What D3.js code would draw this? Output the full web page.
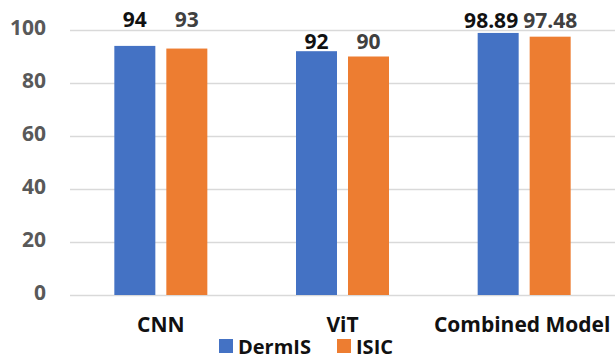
<!DOCTYPE html>
<html>
<head>
<meta charset="utf-8">
<script src="https://cdn.jsdelivr.net/npm/d3@7"></script>
<style>
  html, body { margin: 0; padding: 0; background: #ffffff; }
  svg { display: block; font-family: "Open Sans", "DejaVu Sans", sans-serif; font-weight: 700; }
</style>
</head>
<body>
<svg id="chart" width="615" height="360"></svg>
<script>
// ---- data ----
const categories = ["CNN", "ViT", "Combined Model"];
const seriesNames = ["DermIS", "ISIC"];
const dermisValues = [94, 92, 98.89];
const isicValues = [93, 90, 97.48];
const dermisLabels = ["94", "92", "98.89"];
const isicLabels = ["93", "90", "97.48"];
const yTicks = [0, 20, 40, 60, 80, 100];

// ---- style / layout ----
const colors = { DermIS: "#4472C4", ISIC: "#ED7D31" };
const labelColors = { DermIS: "#111111", ISIC: "#404040" };
const labelBaseline = { "CNN": 27, "ViT": 48.5, "Combined Model": 27.5 };

const W = 615, H = 360;
const plot = { left: 70, right: 615, top: 30, bottom: 295 };

const svg = d3.select("#chart");

const y = d3.scaleLinear().domain([0, 100]).range([plot.bottom, plot.top]);
const x0 = d3.scaleBand().domain(categories).range([plot.left, plot.right]).padding(0);
const groupW = 93;
const x1 = d3.scaleBand().domain(seriesNames).range([0, groupW]).paddingInner(0.2115).paddingOuter(0);
const groupOffset = (x0.bandwidth() - groupW) / 2;

const rows = categories.map((c, i) => ({
  cat: c,
  items: [
    { s: "DermIS", v: dermisValues[i], label: dermisLabels[i] },
    { s: "ISIC", v: isicValues[i], label: isicLabels[i] }
  ]
}));

// gridlines
svg.append("g")
  .selectAll("line")
  .data(yTicks)
  .join("line")
  .attr("x1", plot.left).attr("x2", plot.right)
  .attr("y1", d => y(d) + 0.5).attr("y2", d => y(d) + 0.5)
  .attr("stroke", "#d9d9d9").attr("stroke-width", 1.3);

// y axis labels via d3 axis
const yAxis = svg.append("g")
  .attr("transform", `translate(${46},0)`)
  .call(d3.axisLeft(y).tickValues(yTicks).tickSize(0).tickPadding(0).tickFormat(d3.format("d")));
yAxis.select(".domain").remove();
yAxis.selectAll("text")
  .attr("fill", "#595959")
  .attr("font-size", 21)
  .attr("font-family", "'Open Sans', sans-serif")
  .attr("font-weight", 700)
  .attr("dy", "0.3em")
  .attr("y", -1.5);

// bars
const groups = svg.append("g").selectAll("g")
  .data(rows)
  .join("g")
  .attr("transform", d => `translate(${x0(d.cat) + groupOffset},0)`);

groups.selectAll("rect")
  .data(d => d.items)
  .join("rect")
  .attr("x", d => x1(d.s))
  .attr("width", x1.bandwidth())
  .attr("y", d => y(d.v))
  .attr("height", d => y(0) - y(d.v))
  .attr("fill", d => colors[d.s]);

// value labels
groups.each(function(g) {
  const sel = d3.select(this);
  const texts = sel.selectAll("text.val")
    .data(g.items)
    .join("text")
    .attr("class", "val")
    .attr("x", d => x1(d.s) + x1.bandwidth() / 2)
    .attr("y", labelBaseline[g.cat])
    .attr("text-anchor", "middle")
    .attr("font-size", 21)
    .attr("fill", d => labelColors[d.s])
    .text(d => d.label);
  // simple collision avoidance between the two labels in a group
  const nodes = texts.nodes();
  const b0 = nodes[0].getBBox(), b1 = nodes[1].getBBox();
  const overlap = (b0.x + b0.width) - b1.x + 5;
  if (overlap > 0) {
    d3.select(nodes[0]).attr("x", +d3.select(nodes[0]).attr("x") - overlap);
  }
});

// category labels
svg.append("g").selectAll("text")
  .data(categories)
  .join("text")
  .attr("x", d => x0(d) + x0.bandwidth() / 2 + (d === "Combined Model" ? -2 : 0))
  .attr("y", 332)
  .attr("text-anchor", "middle")
  .attr("font-size", 21)
  .attr("fill", "#111111")
  .text(d => d);

// legend
const legend = svg.append("g");
const legendPos = [219, 337];
seriesNames.forEach((s, i) => {
  const gx = legendPos[i];
  legend.append("rect")
    .attr("x", gx).attr("y", 339)
    .attr("width", 14).attr("height", 14)
    .attr("fill", colors[s]);
  legend.append("text")
    .attr("x", gx + 19).attr("y", 354)
    .attr("font-size", 20)
    .attr("fill", "#111111")
    .text(s);
});
</script>
</body>
</html>
